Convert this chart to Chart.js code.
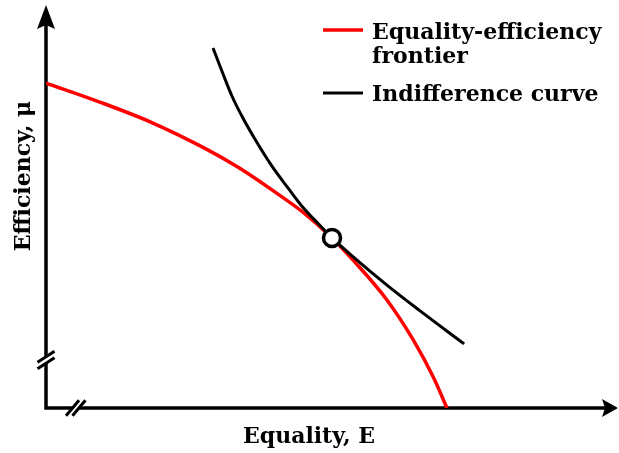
<!DOCTYPE html>
<html>
<head>
<meta charset="utf-8">
<script src="https://cdn.jsdelivr.net/npm/chart.js@4.4.1/dist/chart.umd.min.js"></script>
<style>
  html, body { margin: 0; padding: 0; background: #fff; }
</style>
</head>
<body>
<canvas id="chart" width="619" height="453"></canvas>
<script>
// values (arbitrary units)
const frontierE  = [0, 0.94, 1.82, 2.78, 3.36, 3.95, 4.49, 5.00, 5.40, 5.96, 6.42, 6.77, 7.01];
const frontierMu = [8.06, 7.59, 7.10, 6.44, 5.97, 5.41, 4.86, 4.22, 3.62, 2.68, 1.69, 0.77, 0];
const indiffE    = [2.92, 3.08, 3.25, 3.44, 3.67, 3.95, 4.23, 4.49, 4.76, 5.00, 5.37, 5.96, 6.54, 7.31];
const indiffMu   = [8.93, 8.34, 7.74, 7.20, 6.63, 6.00, 5.46, 4.98, 4.57, 4.22, 3.75, 3.05, 2.41, 1.59];
const tangentE   = [5.00];
const tangentMu  = [4.22];
const axisMax    = [9.79, 9.70]; // E, mu

const legendLabels = [["Equality-efficiency", "frontier"], ["Indifference curve"]];
const xTitle = "Equality, E";
const yTitle = "Efficiency, \u03bc";

const FONT = "bold 22px 'DejaVu Serif', 'Liberation Serif', serif";

function toPoints(xs, ys) {
  return xs.map((v, i) => ({ x: v, y: ys[i] }));
}

const axesPlugin = {
  id: "axes",
  beforeDatasetsDraw(chart) {
    const { ctx, chartArea } = chart;
    const x0 = chart.scales.x.getPixelForValue(0);
    const y0 = chart.scales.y.getPixelForValue(0);
    const xEnd = chartArea.right + 12;
    const yEnd = chartArea.top - 12;
    ctx.save();
    ctx.strokeStyle = "#000";
    ctx.fillStyle = "#000";
    ctx.lineWidth = 3.5;
    ctx.beginPath();
    ctx.moveTo(x0, yEnd + 12);
    ctx.lineTo(x0, y0);
    ctx.lineTo(xEnd - 12, y0);
    ctx.stroke();

    // arrow heads
    ctx.beginPath();
    ctx.moveTo(x0, yEnd);
    ctx.lineTo(x0 + 9, yEnd + 24);
    ctx.lineTo(x0, yEnd + 20);
    ctx.lineTo(x0 - 9, yEnd + 24);
    ctx.closePath();
    ctx.fill();
    ctx.beginPath();
    ctx.moveTo(xEnd, y0);
    ctx.lineTo(xEnd - 16, y0 - 9);
    ctx.lineTo(xEnd - 13, y0);
    ctx.lineTo(xEnd - 16, y0 + 9);
    ctx.closePath();
    ctx.fill();

    // axis break marks
    const yb = chart.scales.y.getPixelForValue(1.19);
    const xb = chart.scales.x.getPixelForValue(0.52);
    ctx.fillStyle = "#fff";
    ctx.fillRect(x0 - 4, yb - 3, 8, 6);
    ctx.fillRect(xb - 3, y0 - 4, 6, 8);
    ctx.lineWidth = 3;
    ctx.beginPath();
    [-3.2, 3.2].forEach(d => {
      ctx.moveTo(x0 - 8.5, yb + d + 5.5);
      ctx.lineTo(x0 + 8.5, yb + d - 5.5);
      ctx.moveTo(xb + d - 6.5, y0 + 7.7);
      ctx.lineTo(xb + d + 6.5, y0 - 7.7);
    });
    ctx.stroke();

    // axis titles
    ctx.fillStyle = "#000";
    ctx.font = FONT;
    ctx.textAlign = "center";
    ctx.textBaseline = "alphabetic";
    ctx.fillText(xTitle, chartArea.left + 263, chartArea.bottom + 35);
    ctx.translate(30, 176);
    ctx.rotate(-Math.PI / 2);
    ctx.fillText(yTitle, 0, 0);
    ctx.restore();
  }
};

const legendPlugin = {
  id: "curveLegend",
  afterDraw(chart) {
    const { ctx } = chart;
    const rows = [
      { lineY: 30, baselines: [39, 63] },
      { lineY: 93, baselines: [101] }
    ];
    ctx.save();
    ctx.font = FONT;
    ctx.textAlign = "left";
    ctx.textBaseline = "alphabetic";
    rows.forEach((r, i) => {
      const ds = chart.data.datasets[i];
      ctx.strokeStyle = ds.borderColor;
      ctx.lineWidth = ds.borderWidth;
      ctx.beginPath();
      ctx.moveTo(323, r.lineY);
      ctx.lineTo(363, r.lineY);
      ctx.stroke();
      ctx.fillStyle = "#000";
      legendLabels[i].forEach((t, j) => ctx.fillText(t, 372, r.baselines[j]));
    });
    ctx.restore();
  }
};

new Chart(document.getElementById("chart"), {
  type: "line",
  data: {
    datasets: [
      {
        label: legendLabels[0].join(" "),
        data: toPoints(frontierE, frontierMu),
        borderColor: "#ff0000",
        borderWidth: 3.5,
        pointRadius: 0,
        cubicInterpolationMode: "monotone",
        order: 2
      },
      {
        label: legendLabels[1].join(" "),
        data: toPoints(indiffE, indiffMu),
        borderColor: "#000000",
        borderWidth: 3,
        pointRadius: 0,
        cubicInterpolationMode: "monotone",
        order: 1
      },
      {
        label: "tangency",
        data: toPoints(tangentE, tangentMu),
        showLine: false,
        pointRadius: 8.5,
        pointBorderWidth: 3.5,
        pointBackgroundColor: "#ffffff",
        pointBorderColor: "#000000",
        order: 0
      }
    ]
  },
  options: {
    responsive: false,
    animation: false,
    events: [],
    layout: { padding: { left: 46, top: 17, right: 13, bottom: 45 } },
    plugins: {
      legend: { display: false },
      tooltip: { enabled: false }
    },
    scales: {
      x: { type: "linear", min: 0, max: axisMax[0], display: false },
      y: { type: "linear", min: 0, max: axisMax[1], display: false }
    }
  },
  plugins: [axesPlugin, legendPlugin]
});
</script>
</body>
</html>
